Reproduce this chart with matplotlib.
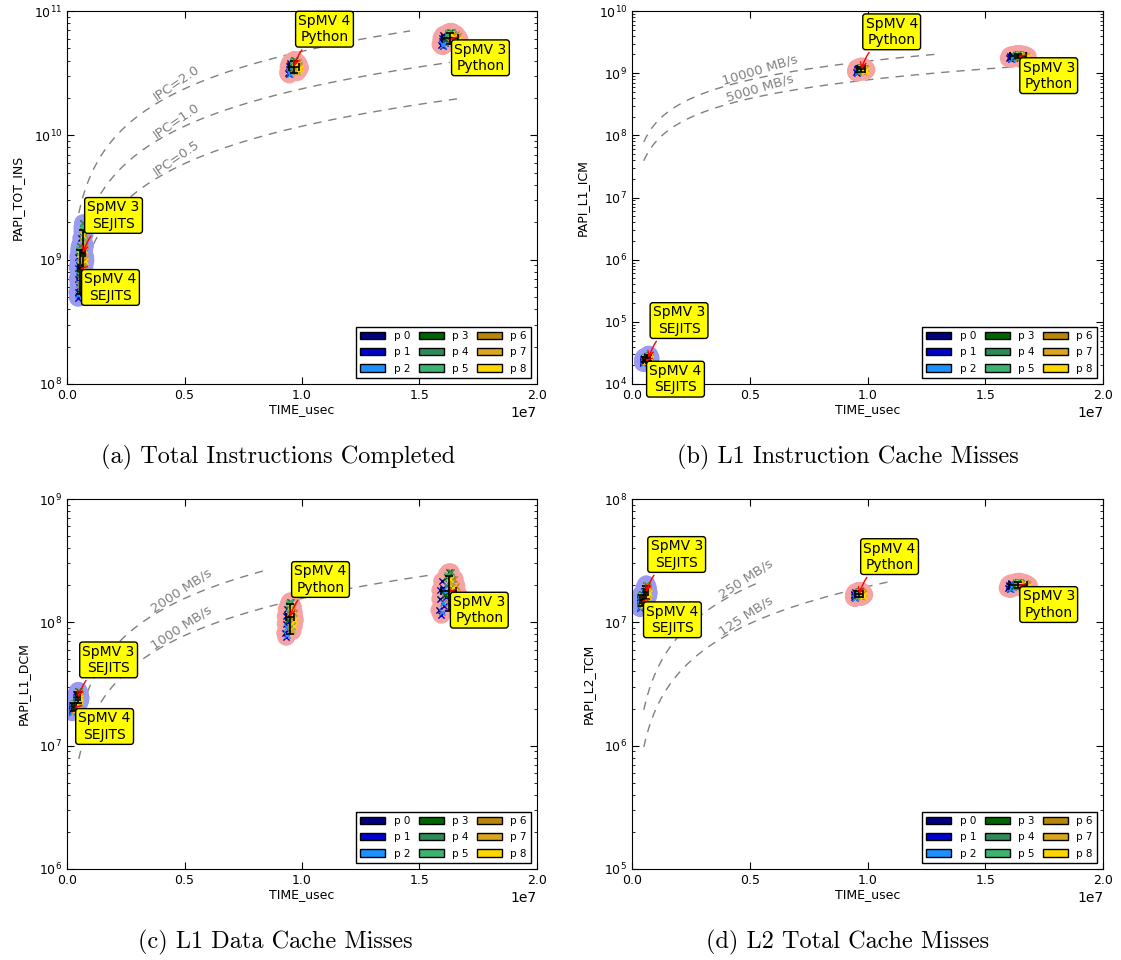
import matplotlib.pyplot as plt
from matplotlib.patches import Patch
import numpy as np

plt.rcParams['xtick.direction'] = 'in'
plt.rcParams['ytick.direction'] = 'in'
plt.rcParams['xtick.top'] = True
plt.rcParams['ytick.right'] = True

# processes
proc_labels = ['p 0', 'p 1', 'p 2', 'p 3', 'p 4', 'p 5', 'p 6', 'p 7', 'p 8']
proc_colors = ['#000080', '#0000cd', '#1e90ff', '#006400', '#2e8b57',
               '#3cb371', '#b8860b', '#daa520', '#ffd700']

# per-process run offsets (normalised, 4 runs per process)
run_dx = [[-0.9, -0.6, -1.0, -0.7],
          [-0.8, -0.5, -0.9, -0.3],
          [-0.6, -0.2, -0.7, -0.4],
          [-0.2, 0.1, -0.4, 0.0],
          [0.2, -0.1, 0.4, 0.3],
          [0.1, 0.5, -0.2, 0.3],
          [0.3, 0.6, 0.0, 0.8],
          [0.6, 0.2, 0.9, 0.5],
          [0.4, 0.8, 0.1, 1.0]]
run_dy = [[-0.3, 0.2, -0.8, 0.5],
          [-1.0, -0.6, 0.1, -0.2],
          [-0.5, 0.3, -0.9, 0.0],
          [0.7, 0.2, -0.1, 0.9],
          [0.9, 0.4, -0.4, 0.6],
          [0.5, -0.3, 0.8, -0.6],
          [0.1, 0.6, -0.5, 0.3],
          [-0.2, 0.4, 0.0, -0.7],
          [0.2, -0.4, 0.6, -0.1]]

# clusters: SpMV 4 Python, SpMV 3 Python, SpMV 3 SEJITS, SpMV 4 SEJITS
cluster_names = ['SpMV 4\nPython', 'SpMV 3\nPython', 'SpMV 3\nSEJITS', 'SpMV 4\nSEJITS']
cluster_kind = ['Python', 'Python', 'SEJITS', 'SEJITS']
cluster_below = [False, True, False, True]

panel_ylabels = ['PAPI_TOT_INS', 'PAPI_L1_ICM', 'PAPI_L1_DCM', 'PAPI_L2_TCM']
panel_ylims = [(1e8, 1e11), (1e4, 1e10), (1e6, 1e9), (1e5, 1e8)]
captions = ['(a) Total Instructions Completed', '(b) L1 Instruction Cache Misses',
            '(c) L1 Data Cache Misses', '(d) L2 Total Cache Misses']

# cluster centres (time in usec, counter value) and spreads (usec, decades)
center_x = [[0.966e7, 1.63e7, 0.068e7, 0.055e7],
            [0.973e7, 1.64e7, 0.070e7, 0.055e7],
            [0.949e7, 1.625e7, 0.047e7, 0.030e7],
            [0.964e7, 1.64e7, 0.060e7, 0.042e7]]
center_y = [[3.55e10, 6.0e10, 1.05e9, 8.2e8],
            [1.15e9, 1.87e9, 2.6e4, 2.45e4],
            [1.08e8, 1.75e8, 2.45e7, 2.05e7],
            [1.69e7, 2.0e7, 1.75e7, 1.5e7]]
spread_x = [[0.025e7, 0.04e7, 0.010e7, 0.010e7],
            [0.022e7, 0.04e7, 0.008e7, 0.008e7],
            [0.02e7, 0.04e7, 0.010e7, 0.010e7],
            [0.022e7, 0.045e7, 0.010e7, 0.010e7]]
spread_y = [[0.06, 0.06, 0.30, 0.22],
            [0.05, 0.04, 0.06, 0.05],
            [0.15, 0.18, 0.06, 0.04],
            [0.03, 0.03, 0.07, 0.06]]

# reference lines
clock_per_usec = 2370.0
ipc_values = [2.0, 1.0, 0.5]
ipc_ends = [1.46e7, 1.63e7, 1.68e7]
line_bytes = 64.0
bw_values = [None, [10000, 5000], [2000, 1000], [250, 125]]
bw_ends = [None, [1.29e7, 1.7e7], [0.86e7, 1.56e7], [0.54e7, 1.10e7]]
ref_start = 0.05e7
label_x = [0.48e7, 0.55e7, 0.5e7, 0.5e7]

halo_colors = {'Python': '#f5a3a3', 'SEJITS': '#9a9af2'}

fig = plt.figure(figsize=(11.21, 9.6), dpi=100)
positions = [[0.0598, 0.600, 0.4192, 0.3885],
             [0.5638, 0.600, 0.4202, 0.3885],
             [0.0598, 0.0948, 0.4192, 0.3854],
             [0.5638, 0.0948, 0.4202, 0.3854]]

for i in range(4):
    ax = fig.add_axes(positions[i])
    ax.set_yscale('log')
    ax.set_xlim(0, 2.0e7)
    ax.set_ylim(panel_ylims[i])
    ax.set_xticks([0, 0.5e7, 1.0e7, 1.5e7, 2.0e7])
    ax.tick_params(which='major', length=5, labelsize=9)
    ax.tick_params(which='minor', length=2.5)
    ax.set_xlabel('TIME_usec', fontsize=9, labelpad=0.5)
    ax.set_ylabel(panel_ylabels[i], fontsize=9, labelpad=7)

    # reference lines
    if i == 0:
        slopes = [v * clock_per_usec for v in ipc_values]
        texts = ['IPC=%.1f' % v for v in ipc_values]
        ends = ipc_ends
    else:
        slopes = [v / line_bytes for v in bw_values[i]]
        texts = ['%d MB/s' % v for v in bw_values[i]]
        ends = bw_ends[i]
    for k, t, x1 in zip(slopes, texts, ends):
        xs = np.linspace(ref_start, x1, 300)
        ax.plot(xs, k * xs, color='#808080', lw=1, linestyle=(0, (6, 5)), zorder=1)
        xl = label_x[i]
        xa = 0.68 * xl
        p1 = ax.transData.transform((xa, k * xa))
        p2 = ax.transData.transform((xa * 1.05, k * xa * 1.05))
        ang = np.degrees(np.arctan2(p2[1] - p1[1], p2[0] - p1[0]))
        ax.text(xl, k * xl * 1.04, t, color='#808080', fontsize=9.5, rotation=ang,
                rotation_mode='anchor', ha='center', va='bottom', zorder=1)

    # clusters
    for c in range(4):
        cx, cy = center_x[i][c], center_y[i][c]
        sx, sy = spread_x[i][c], spread_y[i][c]
        xs = cx + sx * np.array(run_dx)
        ys = cy * 10 ** (sy * np.array(run_dy))
        ax.scatter(xs.ravel(), ys.ravel(), s=170, color=halo_colors[cluster_kind[c]],
                   edgecolors='none', zorder=2)
        for p in range(9):
            ax.scatter(xs[p], ys[p], marker='x', s=20, linewidths=1,
                       color=proc_colors[p], zorder=3)
        mx, my = xs.mean(), ys.mean()
        ax.errorbar(mx, my, xerr=1.5 * xs.std(), yerr=1.5 * ys.std(), fmt='none',
                    ecolor='black', elinewidth=1.2, capsize=3, capthick=1.2, zorder=4)
        off = (22, -14) if cluster_below[c] else (22, 27)
        ax.annotate(cluster_names[c], xy=(mx, my), xytext=off, textcoords='offset points',
                    ha='center', va='center', fontsize=10, zorder=6,
                    bbox=dict(boxstyle='round,pad=0.2', fc='yellow', ec='black', lw=1),
                    arrowprops=dict(arrowstyle='->', color='red', lw=1,
                                    connectionstyle='arc3,rad=0.2', shrinkB=0))

    handles = [Patch(facecolor=col, edgecolor='black', label=lab)
               for col, lab in zip(proc_colors, proc_labels)]
    leg = ax.legend(handles=handles, loc='lower right', ncol=3, fontsize=7.5,
                    fancybox=False, edgecolor='black', framealpha=1,
                    handlelength=2.4, columnspacing=0.8, handletextpad=0.8,
                    labelspacing=0.6, borderaxespad=0.6)
    leg.get_frame().set_linewidth(1)
    leg.set_zorder(10)

caption_pos = [(0.248, 0.524), (0.756, 0.524), (0.246, 0.018), (0.756, 0.018)]
for (cxp, cyp), cap in zip(caption_pos, captions):
    fig.text(cxp, cyp, cap, ha='center', va='center', family='cmr10', fontsize=17.5)

fig.savefig('out.png', dpi=100)
